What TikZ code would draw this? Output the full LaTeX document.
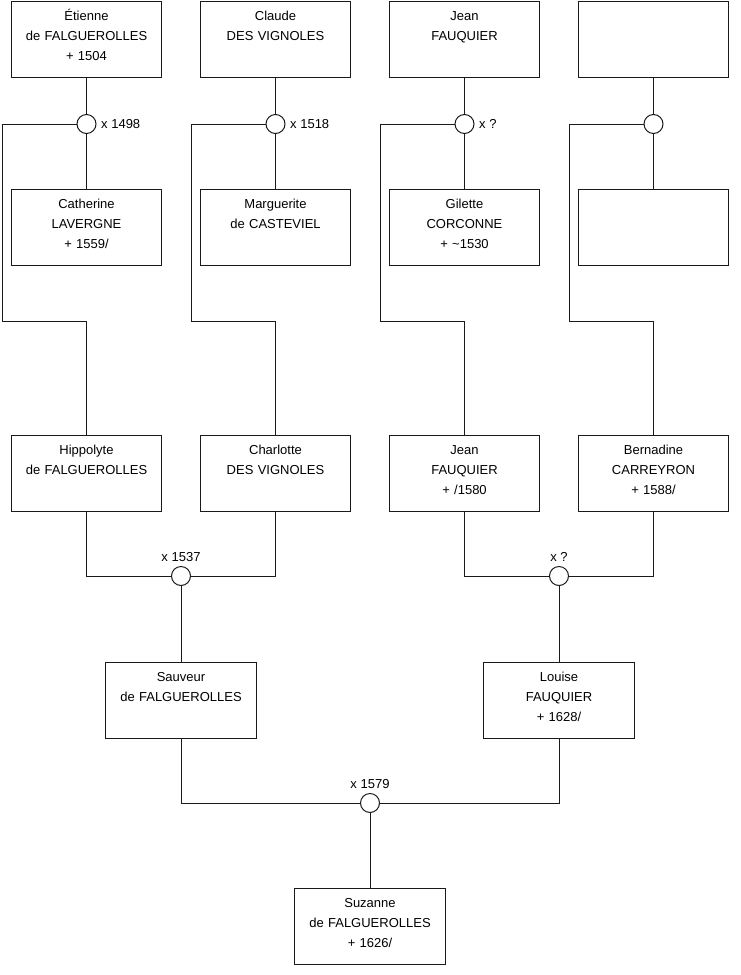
\documentclass[tikz,border=0pt]{standalone}
\usepackage{fontspec}
\setmainfont{Liberation Sans}
\usepackage{xcolor}
\usepackage{tikz}
\definecolor{linec}{HTML}{1A1A1A}
\tikzset{
  pers/.style={draw=linec,line width=0.75pt,anchor=north,inner sep=0pt,text width=113pt,align=center,text height=14.6pt,text depth=42.4pt,font=\fontsize{9.75}{15}\selectfont},
  wed/.style={draw=linec,circle,fill=white,line width=0.75pt,minimum size=14.25pt,inner sep=0pt,label distance=0pt},
  ln/.style={linec,line width=0.75pt},
  lab/.style={font=\fontsize{9.75}{12}\selectfont}
}

\begin{document}
\begin{tikzpicture}[x=0.75pt,y=-0.75pt]
\useasboundingbox (0,0) rectangle (740,975);
% first generation
\node[pers] (a1) at (86.5,0.5) {Étienne\\de FALGUEROLLES\\+ 1504};
\node[pers] (a2) at (275.5,0.5) {Claude\\DES VIGNOLES};
\node[pers] (a3) at (464.5,0.5) {Jean\\FAUQUIER};
\node[pers] (a4) at (653.5,0.5) {};
\node[pers] (b1) at (86.5,189) {Catherine\\LAVERGNE\\+ 1559/};
\node[pers] (b2) at (275.5,189) {Marguerite\\de CASTEVIEL};
\node[pers] (b3) at (464.5,189) {Gilette\\CORCONNE\\+ \textasciitilde1530};
\node[pers] (b4) at (653.5,189) {};
\node[wed,label={[lab]right:x 1498}] (m1) at (86.5,124) {};
\node[wed,label={[lab]right:x 1518}] (m2) at (275.5,124) {};
\node[wed,label={[lab]right:x ?}] (m3) at (464.5,124) {};
\node[wed] (m4) at (653.5,124) {};
% children
\node[pers] (c1) at (86.5,435) {Hippolyte\\de FALGUEROLLES};
\node[pers] (c2) at (275.5,435) {Charlotte\\DES VIGNOLES};
\node[pers] (c3) at (464.5,435) {Jean\\FAUQUIER\\+ /1580};
\node[pers] (c4) at (653.5,435) {Bernadine\\CARREYRON\\+ 1588/};
\coordinate (k1) at (2,321);
\coordinate (k2) at (191,321);
\coordinate (k3) at (380,321);
\coordinate (k4) at (569,321);
\foreach \i in {1,...,4}{
  \draw[ln] (a\i) -- (m\i) -- (b\i);
  \draw[ln] (m\i.west) -| (k\i) -| (c\i.north);
}
% grandchildren
\node[wed,label={[lab]above:x 1537}] (m5) at (181,576) {};
\node[wed,label={[lab]above:x ?}] (m6) at (559,576) {};
\node[pers] (d1) at (181,662) {Sauveur\\de FALGUEROLLES};
\node[pers] (d2) at (559,662) {Louise\\FAUQUIER\\+ 1628/};
\draw[ln] (c1.south) |- (m5.west);
\draw[ln] (c2.south) |- (m5.east);
\draw[ln] (m5) -- (d1);
\draw[ln] (c3.south) |- (m6.west);
\draw[ln] (c4.south) |- (m6.east);
\draw[ln] (m6) -- (d2);
% last
\node[wed,label={[lab]above:x 1579}] (m7) at (370,803) {};
\node[pers] (e1) at (370,888) {Suzanne\\de FALGUEROLLES\\+ 1626/};
\draw[ln] (d1.south) |- (m7.west);
\draw[ln] (d2.south) |- (m7.east);
\draw[ln] (m7) -- (e1);
\end{tikzpicture}
\end{document}
